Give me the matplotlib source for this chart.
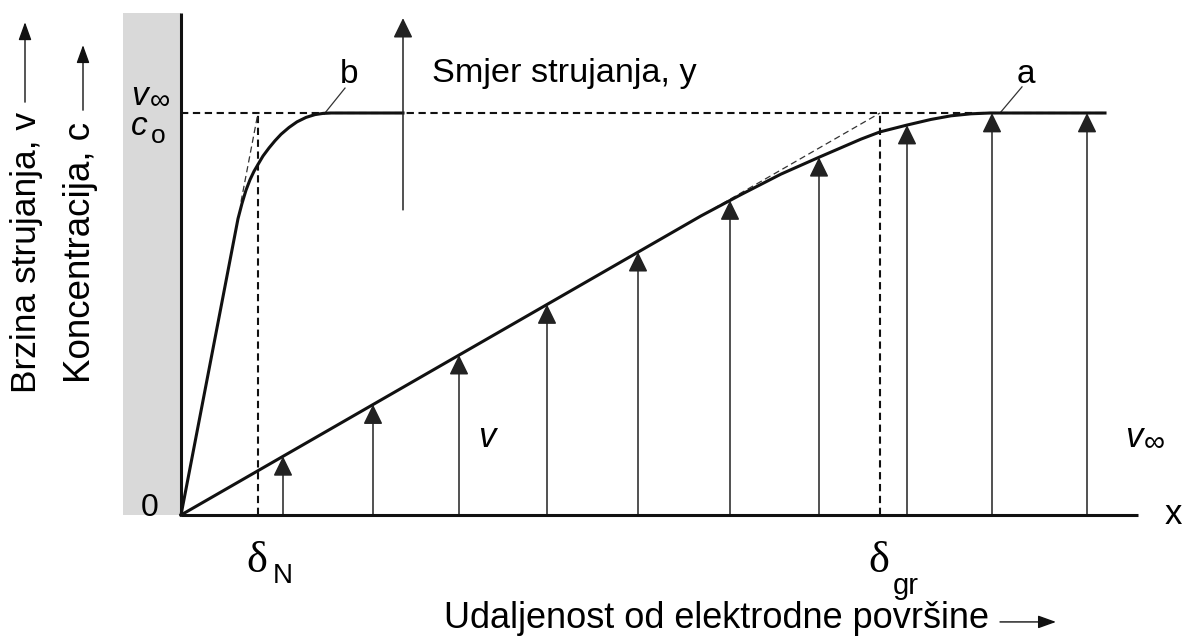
import numpy as np
import matplotlib
matplotlib.use("Agg")
import matplotlib.pyplot as plt
from matplotlib.patches import Rectangle

plt.rcParams['font.family'] = ['Liberation Sans', 'DejaVu Sans']
plt.rcParams['mathtext.fontset'] = 'custom'
plt.rcParams['mathtext.rm'] = 'Liberation Sans'
plt.rcParams['mathtext.it'] = 'Liberation Sans:italic'

# Distance from the electrode surface (x) and relative magnitude (v / v_inf, c / c_o)
# Curve b: concentration profile (Nernst diffusion layer)
conc_x = [0, 57, 61, 65, 69, 73, 77, 82, 88, 94, 100, 108, 116, 125, 134, 142, 150, 222]
conc_y = [0, 0.737, 0.775, 0.808, 0.834, 0.855, 0.872, 0.893, 0.913, 0.931, 0.947,
          0.964, 0.978, 0.989, 0.996, 0.999, 1.0, 1.0]

# Curve a: flow velocity profile (hydrodynamic boundary layer)
vel_x = [0, 520, 560, 600, 639, 680, 699, 726, 750, 770, 790, 809, 924]
vel_y = [0, 0.744, 0.797, 0.848, 0.891, 0.935, 0.953, 0.970, 0.984, 0.993, 0.998, 1.0, 1.0]

# Positions of the velocity vectors along x
vector_x = [102, 192, 278, 366, 457, 549, 638, 726, 811, 906]

# Layer thicknesses
delta_N = 77
delta_gr = 699
x_axis_end = 957
y_axis_top = 1.249

ink = '#111111'
thin = '#333333'

fig = plt.figure(figsize=(11.84, 6.39), dpi=100)
ax = fig.add_axes([0, 0, 1, 1])
ax.set_xlim(-181, 1003)
ax.set_ylim(-124 / 402, 515 / 402)
ax.axis('off')

# electrode surface
ax.add_patch(Rectangle((-58, 0), 58, y_axis_top, facecolor='#d9d9d9', edgecolor='none', zorder=0))

# axes lines
ax.plot([0, 0], [0, y_axis_top], color=ink, lw=2.2, solid_capstyle='butt', zorder=4)
ax.plot([0, x_axis_end], [0, 0], color=ink, lw=2.2, solid_capstyle='butt', zorder=4)

# dashed reference lines
dash = dict(color=ink, lw=1.5, linestyle=(0, (3.5, 2.2)), zorder=2)
ax.plot([0, vel_x[-1]], [1, 1], **dash)
ax.plot([delta_N, delta_N], [0, 1], **dash)
ax.plot([delta_gr, delta_gr], [0, 1], **dash)

# tangents at the origin
tang = dict(color=thin, lw=0.9, linestyle=(0, (5, 3)), zorder=2)
ax.plot([60, delta_N], [60 / delta_N, 1], **tang)
ax.plot([480, delta_gr], [480 / delta_gr, 1], **tang)

# profiles
ax.plot(conc_x, conc_y, color=ink, lw=2.2, zorder=3, solid_joinstyle='round')
ax.plot(vel_x, vel_y, color=ink, lw=2.2, zorder=3, solid_joinstyle='round')

# velocity vectors
arrow_kw = dict(arrowstyle='-|>,head_length=0.45,head_width=0.22', color='#222222', lw=1.1,
                shrinkA=0, shrinkB=0, mutation_scale=27)
vector_tip = np.interp(vector_x, vel_x, vel_y)
for xv, yv in zip(vector_x, vector_tip):
    ax.annotate('', xy=(xv, yv), xytext=(xv, 0), arrowprops=arrow_kw, zorder=3)

# flow direction arrow
ax.annotate('', xy=(222, 1.236), xytext=(222, 0.759), arrowprops=arrow_kw)
ax.text(251, 1.077, 'Smjer strujanja, y', fontsize=24.7, va='baseline', ha='left')

# curve labels with leader lines
ax.plot([164, 143], [1.062, 0.997], color=thin, lw=0.9)
ax.plot([841, 819], [1.065, 1.0], color=thin, lw=0.9)
ax.text(168, 1.095, 'b', fontsize=24, ha='center', va='center')
ax.text(845, 1.095, 'a', fontsize=24, ha='center', va='center')


def v_inf(x, y, size):
    """Italic v followed by a lowered infinity sign, anchored at the join."""
    ax.text(x, y, 'v', fontsize=size, style='italic', ha='right', va='baseline')
    ax.annotate('\u221e', xy=(x, y), xytext=(1, -3), textcoords='offset points',
                fontsize=size * 0.85, ha='left', va='baseline')


# value labels
ax.text(306, 0.170, 'v', fontsize=25, style='italic', ha='center', va='baseline')
v_inf(961, 0.169, 25)
v_inf(-33, 1.02, 24)
ax.text(-33, 0.945, 'c', fontsize=24, style='italic', ha='right', va='baseline')
ax.annotate('o', xy=(-33, 0.945), xytext=(2, -6), textcoords='offset points',
            fontsize=19, ha='left', va='baseline')
ax.text(-31, 0.017, '0', fontsize=23, ha='center', va='center')
ax.text(992, 0.002, 'x', fontsize=25, ha='center', va='center')

# layer thickness labels
ax.text(delta_N - 1, -0.142, '\u03b4', fontsize=32, family='Liberation Serif', ha='center', va='baseline')
ax.text(delta_N + 15, -0.170, 'N', fontsize=20, ha='left', va='baseline')
ax.text(delta_gr - 1, -0.142, '\u03b4', fontsize=32, family='Liberation Serif', ha='center', va='baseline')
ax.text(delta_gr + 13, -0.197, 'gr', fontsize=21, ha='left', va='baseline')

# axis titles
ax.text(535, -0.281, 'Udaljenost od elektrodne površine', fontsize=26, ha='center', va='baseline')
ax.annotate('', xy=(875, -0.266), xytext=(819, -0.266),
            arrowprops=dict(arrowstyle='-|>,head_length=0.5,head_width=0.18', color=ink,
                            lw=1.0, shrinkA=0, shrinkB=0, mutation_scale=22))

ax.text(-154, 0.654, 'Brzina strujanja, v', fontsize=25.5, rotation=90, ha='center', va='center')
ax.annotate('', xy=(-156, 1.226), xytext=(-156, 1.027),
            arrowprops=dict(arrowstyle='-|>,head_length=0.5,head_width=0.18', color=ink,
                            lw=1.0, shrinkA=0, shrinkB=0, mutation_scale=22))
ax.text(-100, 0.654, 'Koncentracija, c', fontsize=26.5, rotation=90, ha='center', va='center')
ax.annotate('', xy=(-98, 1.169), xytext=(-98, 1.007),
            arrowprops=dict(arrowstyle='-|>,head_length=0.5,head_width=0.18', color=ink,
                            lw=1.0, shrinkA=0, shrinkB=0, mutation_scale=22))

fig.savefig('out.png', dpi=100, facecolor='white')
